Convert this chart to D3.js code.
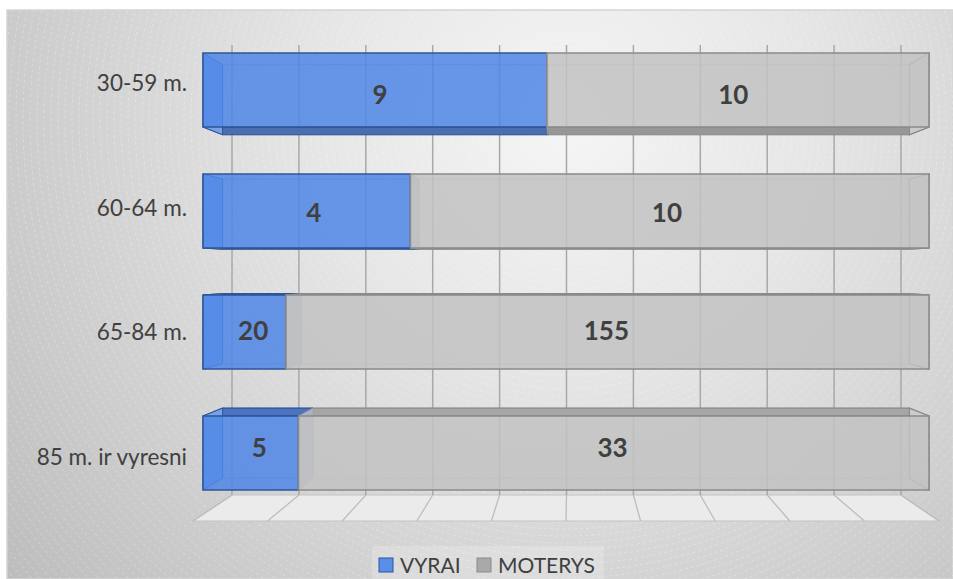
<!DOCTYPE html>
<html>
<head>
<meta charset="utf-8">
<style>
  body { margin: 0; background: #fff; }
  svg { display: block; font-family: Lato, "Open Sans", sans-serif; }
</style>
</head>
<body>
<svg id="chart" width="953" height="579"></svg>
<script src="https://cdn.jsdelivr.net/npm/d3@7"></script>
<script>
// data
var categories = ["30-59 m.", "60-64 m.", "65-84 m.", "85 m. ir vyresni"];
var vyrai = [9, 4, 20, 5];
var moterys = [10, 10, 155, 33];
var seriesNames = ["VYRAI", "MOTERYS"];

var svg = d3.select('#chart');
var defs = svg.append('defs');

// background
var grad = defs.append('radialGradient').attr('id', 'bg')
    .attr('gradientUnits', 'userSpaceOnUse')
    .attr('cx', 565).attr('cy', 120).attr('r', 720);
grad.append('stop').attr('offset', 0).attr('stop-color', '#f5f5f5');
grad.append('stop').attr('offset', 0.35).attr('stop-color', '#e6e6e6');
grad.append('stop').attr('offset', 1).attr('stop-color', '#bdbdbd');

defs.append('clipPath').attr('id', 'bgClip')
    .append('rect').attr('x', 7).attr('y', 10).attr('width', 946).attr('height', 569);

svg.append('rect').attr('x', 7).attr('y', 10).attr('width', 946).attr('height', 569)
    .attr('fill', 'url(#bg)').attr('stroke', '#d4d4d4').attr('stroke-width', 1.5);

svg.append('g').attr('clip-path', 'url(#bgClip)').selectAll('circle')
    .data(d3.range(10, 900, 7)).enter().append('circle')
    .attr('cx', 565).attr('cy', 120).attr('r', function (d) { return d; })
    .attr('fill', 'none').attr('stroke', '#fff').attr('stroke-opacity', 0.35)
    .attr('stroke-width', 0.8).attr('stroke-dasharray', '3,3');

// scales
var xBack = d3.scaleLinear().domain([0, 1]).range([232, 901]);
var xFloor = d3.scaleLinear().domain([0, 1]).range([193, 939]);
var x = d3.scaleLinear().domain([0, 1]).range([203, 929]);
var y = d3.scaleBand().domain(categories).range([29.5, 513.5])
    .paddingInner(0.388).paddingOuter(0.194);
var yLabel = d3.scalePoint().domain(categories).range([20.75, 518.75]).padding(0.5);

var wallTop = 45, wallBottom = 495, floorFront = 521;
var vp = [566, 270], k = 0.946;
var proj = function (p) { return [vp[0] + (p[0] - vp[0]) * k, vp[1] + (p[1] - vp[1]) * k]; };

// back wall grid + floor
var ticks = xBack.ticks(10);
svg.append('path')
    .attr('d', d3.line()([[xBack(0), wallBottom], [xBack(1), wallBottom], [xFloor(1), floorFront], [xFloor(0), floorFront]]) + 'Z')
    .attr('fill', '#ebebeb').attr('stroke', '#c4c4c4').attr('stroke-width', 1.2);
svg.append('g').selectAll('line').data(ticks).enter().append('line')
    .attr('x1', function (d) { return xBack(d); }).attr('x2', function (d) { return xFloor(d); })
    .attr('y1', wallBottom).attr('y2', floorFront)
    .attr('stroke', '#bdbdbd').attr('stroke-width', 1.3);
svg.append('g').selectAll('line').data(ticks).enter().append('line')
    .attr('x1', function (d) { return xBack(d); }).attr('x2', function (d) { return xBack(d); })
    .attr('y1', wallTop).attr('y2', wallBottom)
    .attr('stroke', '#a8a8a8').attr('stroke-width', 1.5);

// stacked (100%) data
var rows = categories.map(function (c, i) { return { cat: c, VYRAI: vyrai[i], MOTERYS: moterys[i] }; });
var stacked = d3.stack().keys(seriesNames).offset(d3.stackOffsetExpand)(rows);

var styles = {
    VYRAI: { front: '#4f86e6', stroke: '#2f5597', top: '#4a73c0', bottom: '#4a6fb0', side: '#7ea6ee', end: '#aab3c6' },
    MOTERYS: { front: '#c2c2c2', stroke: '#8a8a8a', top: '#a6a6a6', bottom: '#979797', side: '#d2d2d2', end: '#d2d2d2' }
};

var poly = function (pts) { return d3.line()(pts) + 'Z'; };
var bars = svg.append('g');

categories.forEach(function (cat, i) {
    var y0 = y(cat), y1 = y0 + y.bandwidth();
    var g = bars.append('g');
    stacked.forEach(function (s, si) {
        var st = styles[s.key];
        var x0 = x(s[i][0]), x1 = x(s[i][1]);
        var f = [[x0, y0], [x1, y0], [x1, y1], [x0, y1]];
        var b = f.map(proj);
        // back outline seen through the faces
        g.append('path').attr('d', poly(b)).attr('fill', 'none')
            .attr('stroke', st.stroke).attr('stroke-opacity', 0.35).attr('stroke-width', 1);
        if (b[0][1] < y0) {
            g.append('path').attr('d', poly([f[0], f[1], b[1], b[0]]))
                .attr('fill', st.top).attr('stroke', st.stroke).attr('stroke-width', 1.2);
        }
        if (b[3][1] > y1) {
            g.append('path').attr('d', poly([f[3], f[2], b[2], b[3]]))
                .attr('fill', st.bottom).attr('stroke', st.stroke).attr('stroke-width', 1.2);
        }
        if (b[0][0] > x0) {
            g.append('path').attr('d', poly([f[0], b[0], b[3], f[3]]))
                .attr('fill', si === 0 ? st.side : styles.VYRAI.end)
                .attr('fill-opacity', 0.9)
                .attr('stroke', st.stroke).attr('stroke-opacity', si === 0 ? 1 : 0.3).attr('stroke-width', 1);
        }
        if (b[1][0] < x1) {
            g.append('path').attr('d', poly([f[1], b[1], b[2], f[2]]))
                .attr('fill', st.end).attr('fill-opacity', 0.85)
                .attr('stroke', st.stroke).attr('stroke-width', 1.2);
        }
        g.append('path').attr('d', poly(f))
            .attr('fill', st.front).attr('fill-opacity', 0.85)
            .attr('stroke', st.stroke).attr('stroke-width', 1.5);
        var fc = [(x0 + x1) / 2, (y0 + y1) / 2], bc = proj(fc);
        g.append('text')
            .attr('x', (fc[0] + bc[0]) / 2).attr('y', (fc[1] + bc[1]) / 2)
            .attr('dy', '0.36em').attr('text-anchor', 'middle')
            .attr('font-size', 26).attr('font-weight', 700).attr('fill', '#404040')
            .text(s[i].data[s.key]);
    });
});

// category labels
svg.append('g').selectAll('text').data(categories).enter().append('text')
    .attr('x', 187).attr('y', function (d) { return yLabel(d); })
    .attr('dy', '0.37em').attr('text-anchor', 'end')
    .attr('font-size', 22.5).attr('fill', '#404040')
    .text(function (d) { return d; });

// legend
var legend = svg.append('g');
legend.append('rect').attr('x', 372).attr('y', 546).attr('width', 232).attr('height', 40)
    .attr('fill', '#fff').attr('fill-opacity', 0.2);
var legendX = [379, 477];
seriesNames.forEach(function (name, i) {
    legend.append('rect').attr('x', legendX[i]).attr('y', 558).attr('width', 14).attr('height', 14)
        .attr('fill', i === 0 ? '#5b8ee8' : '#a9a9a9')
        .attr('stroke', i === 0 ? '#2f5597' : '#8a8a8a').attr('stroke-width', 1);
    legend.append('text').attr('x', legendX[i] + 21).attr('y', 573)
        .attr('font-size', 21).attr('fill', '#404040').text(name);
});
</script>
</body>
</html>
